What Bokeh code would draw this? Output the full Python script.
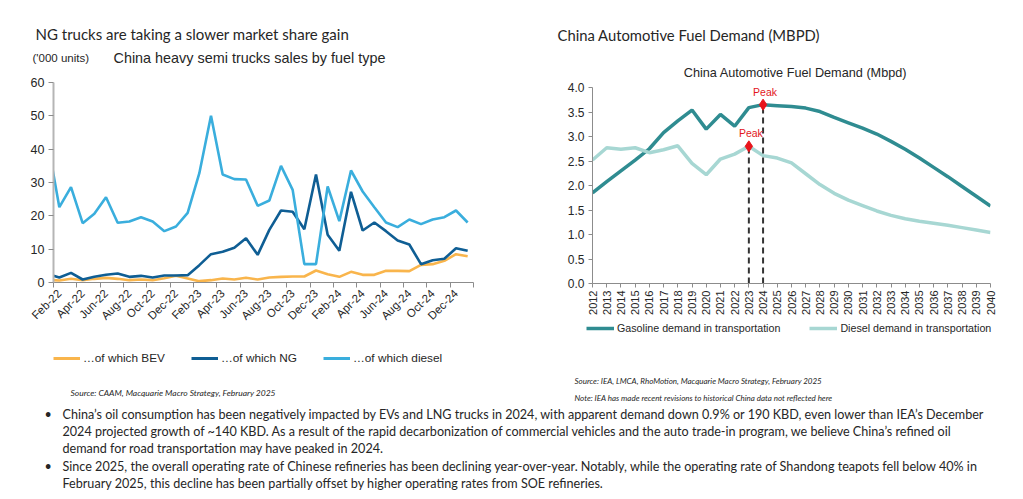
import math
from bokeh.plotting import figure
from bokeh.models import (Range1d, FixedTicker, Legend, LegendItem,
                          ColumnDataSource, NumeralTickFormatter)
from bokeh.layouts import column, row
from bokeh.embed import file_html
from bokeh.resources import INLINE
from bokeh.core.properties import value

# ---------------- data: left chart ----------------
months = ["Jan-22", "Feb-22", "Mar-22", "Apr-22", "May-22", "Jun-22", "Jul-22", "Aug-22",
          "Sep-22", "Oct-22", "Nov-22", "Dec-22", "Jan-23", "Feb-23", "Mar-23", "Apr-23",
          "May-23", "Jun-23", "Jul-23", "Aug-23", "Sep-23", "Oct-23", "Nov-23", "Dec-23",
          "Jan-24", "Feb-24", "Mar-24", "Apr-24", "May-24", "Jun-24", "Jul-24", "Aug-24",
          "Sep-24", "Oct-24", "Nov-24", "Dec-24", "Jan-25"]
bev = [0.8, 0.6, 1.1, 0.7, 1.1, 1.4, 1.1, 0.7, 0.9, 0.7, 1.3, 2.0, 1.2, 0.4, 0.7, 1.2,
       0.9, 1.4, 0.9, 1.5, 1.7, 1.8, 1.8, 3.6, 2.5, 1.7, 3.2, 2.3, 2.3, 3.5, 3.5, 3.4,
       5.3, 5.5, 6.5, 8.5, 7.9]
ng = [2.5, 1.5, 2.9, 0.9, 1.7, 2.3, 2.7, 1.7, 2.0, 1.5, 2.1, 2.1, 2.2, 5.2, 8.5, 9.2,
      10.4, 13.3, 8.3, 15.8, 21.6, 21.2, 16.0, 32.4, 14.3, 9.5, 27.2, 15.6, 18.0, 15.4,
      12.6, 11.4, 5.5, 6.7, 7.1, 10.3, 9.5]
diesel = [42.2, 22.6, 28.6, 17.8, 20.6, 25.6, 17.9, 18.3, 19.6, 18.3, 15.4, 16.8, 20.9,
          32.8, 50.0, 32.4, 31.0, 30.9, 23.0, 24.6, 35.0, 27.8, 5.5, 5.5, 28.8, 18.4,
          33.6, 27.3, 22.6, 18.0, 16.6, 18.9, 17.5, 18.9, 19.6, 21.6, 18.0]
left_series = ["…of which BEV", "…of which NG", "…of which diesel"]
left_yticks = [0, 10, 20, 30, 40, 50, 60]

# ---------------- data: right chart ----------------
years = list(range(2012, 2041))
gasoline = [1.85, 2.08, 2.30, 2.52, 2.75, 3.08, 3.32, 3.54, 3.15, 3.45, 3.21, 3.59, 3.65,
            3.63, 3.61, 3.58, 3.51, 3.39, 3.28, 3.17, 3.05, 2.90, 2.74, 2.56, 2.37, 2.18,
            1.98, 1.78, 1.58]
diesel_d = [2.52, 2.77, 2.74, 2.77, 2.67, 2.73, 2.81, 2.45, 2.22, 2.54, 2.64, 2.80, 2.61,
            2.56, 2.46, 2.24, 2.02, 1.84, 1.70, 1.59, 1.48, 1.39, 1.32, 1.27, 1.23, 1.19,
            1.14, 1.09, 1.04]
right_series = ["Gasoline demand in transportation", "Diesel demand in transportation"]
right_yticks = [0.0, 0.5, 1.0, 1.5, 2.0, 2.5, 3.0, 3.5, 4.0]
peak_years = [2023, 2024]          # diesel peak, gasoline peak
peak_text = "Peak"

texts_left = {
    "headline": "NG trucks are taking a slower market share gain",
    "units": "('000 units)",
    "title": "China heavy semi trucks sales by fuel type",
    "source": "Source: CAAM, Macquarie Macro Strategy, February 2025",
}
texts_right = {
    "headline": "China Automotive Fuel Demand (MBPD)",
    "title": "China Automotive Fuel Demand (Mbpd)",
    "source": "Source: IEA, LMCA, RhoMotion, Macquarie Macro Strategy, February 2025",
    "note": "Note: IEA has made recent revisions to historical China data not reflected here",
}
bullet_lines = [
    ("•", "China\u2019s oil consumption has been negatively impacted by EVs and LNG trucks in 2024, with apparent demand down 0.9% or 190 KBD, even lower than IEA\u2019s December"),
    ("", "2024 projected growth of ~140 KBD. As a result of the rapid decarbonization of commercial vehicles and the auto trade-in program, we believe China\u2019s refined oil"),
    ("", "demand for road transportation may have peaked in 2024."),
    ("•", "Since 2025, the overall operating rate of Chinese refineries has been declining year-over-year. Notably, while the operating rate of Shandong teapots fell below 40% in"),
    ("", "February 2025, this decline has been partially offset by higher operating rates from SOE refineries."),
]

# ---------------- styles ----------------
C_BEV, C_NG, C_DSL = "#F9B54C", "#0F5E94", "#3AAEDD"
C_GAS, C_DD = "#2F8C91", "#A7D7D3"
RED = "#E3161C"
ARIAL = "Liberation Sans"
CAL = "Lato"
TXT = "#262626"
NAN = float("nan")

# page geometry (pixels from the top-left of the page)
W, H = 1023, 499
SPLIT = 538
F1_L, F1_R, F1_T, F1_B = 53, 473, 82, 282
F2_L, F2_R, F2_T, F2_B = 592, 990, 87, 283


def text_fig(x0, x1, y0, y1, bl=0, bt=0):
    """A plain figure whose data space is the page's pixel space."""
    p = figure(width=x1 - x0, height=y1 - y0, x_range=Range1d(x0 + bl, x1),
               y_range=Range1d(y1, y0 + bt), toolbar_location=None, output_backend="svg",
               x_axis_type=None, y_axis_type=None, min_border=0)
    p.min_border_left = bl
    p.min_border_top = bt
    p.frame_align = False
    p.grid.visible = False
    p.outline_line_color = None
    return p


def put_text(p, xs, ys, texts, size, font, color=TXT, style="normal", align="left"):
    p.text(x=xs, y=ys, text=texts, text_font=value(font), text_font_size=f"{size}px",
           text_color=color, text_font_style=style, text_align=align,
           text_baseline="middle")


def chart_fig(x0, x1, y0, y1, fl, fr, ft, fb, xr, yr):
    p = figure(width=x1 - x0, height=y1 - y0, x_range=xr, y_range=yr,
               toolbar_location=None, output_backend="svg")
    p.min_border_left = fl - x0
    p.min_border_right = x1 - fr
    p.min_border_top = ft - y0
    p.min_border_bottom = y1 - fb
    p.frame_align = False
    p.outline_line_color = None
    p.xgrid.visible = False
    p.ygrid.visible = False
    return p


def make_legend(items, glyph_w, spacing, size):
    return Legend(items=items, orientation="horizontal", location="top_left",
                  glyph_width=glyph_w, glyph_height=16, label_height=16, label_standoff=3,
                  spacing=spacing, padding=0, margin=0, border_line_color=None,
                  background_fill_alpha=0, label_text_font=ARIAL,
                  label_text_font_size=f"{size}px", label_text_color=TXT)


# ================= left block =================
T1 = text_fig(0, SPLIT, 0, 76)
put_text(T1, [35], [33], [texts_left["headline"]], 15, CAL)
put_text(T1, [32], [57], [texts_left["units"]], 11.5, ARIAL)
put_text(T1, [113], [57], [texts_left["title"]], 14.4, ARIAL)

idx = list(range(len(months)))
src1 = ColumnDataSource(dict(x=idx, bev=bev, ng=ng, diesel=diesel))
p1 = chart_fig(0, SPLIT, 76, 336, F1_L, F1_R, F1_T, F1_B,
               Range1d(0.5, len(months) - 0.5), Range1d(0, 60))
p1.line("x", "bev", source=src1, color=C_BEV, line_width=2.6)
p1.line("x", "ng", source=src1, color=C_NG, line_width=2.6)
p1.line("x", "diesel", source=src1, color=C_DSL, line_width=2.6)

label_idx = list(range(1, len(months) - 1, 2))
p1.xaxis.ticker = FixedTicker(ticks=label_idx,
                              minor_ticks=[i - 0.5 for i in range(1, len(months) + 1, 2)])
p1.xaxis.major_label_overrides = {i: months[i] for i in label_idx}
p1.xaxis.major_label_orientation = math.pi / 4
p1.xaxis.major_tick_out = 0
p1.xaxis.major_tick_in = 0
p1.xaxis.minor_tick_out = 5
p1.xaxis.minor_tick_in = 0
p1.xaxis.minor_tick_line_color = "#8C8C8C"
p1.xaxis.axis_line_color = "#8C8C8C"
p1.xaxis.major_label_text_font = ARIAL
p1.xaxis.major_label_text_font_size = "11.5px"
p1.xaxis.major_label_text_color = TXT
p1.xaxis.major_label_standoff = 4

p1.yaxis.ticker = FixedTicker(ticks=left_yticks)
p1.yaxis.axis_line_color = "#B5B5B5"
p1.yaxis.axis_line_width = 2
p1.yaxis.major_tick_out = 5
p1.yaxis.major_tick_in = 0
p1.yaxis.major_tick_line_color = "#8C8C8C"
p1.yaxis.minor_tick_line_color = None
p1.yaxis.major_label_text_font = ARIAL
p1.yaxis.major_label_text_font_size = "12.5px"
p1.yaxis.major_label_text_color = TXT
p1.yaxis.major_label_standoff = 4

L1 = text_fig(0, SPLIT, 336, 403, bl=53, bt=14)
lg = [L1.line(x=[NAN], y=[NAN], color=c, line_width=3) for c in (C_BEV, C_NG, C_DSL)]
L1.add_layout(make_legend([LegendItem(label=s, renderers=[r]) for s, r in zip(left_series, lg)],
                          27, 26, 11.8))
put_text(L1, [70], [392], [texts_left["source"]], 8.5, CAL, style="italic")

left_block = column(T1, p1, L1)

# ================= right block =================
T2 = text_fig(SPLIT, W, 0, 80)
put_text(T2, [557], [34], [texts_right["headline"]], 14.8, CAL)
put_text(T2, [795], [72], [texts_right["title"]], 12.7, ARIAL, align="center")

src2 = ColumnDataSource(dict(x=years, gas=gasoline, dsl=diesel_d))
p2 = chart_fig(SPLIT, W, 80, 320, F2_L, F2_R, F2_T, F2_B,
               Range1d(years[0], years[-1]), Range1d(0, 4))
p2.line("x", "gas", source=src2, color=C_GAS, line_width=3.5)
p2.line("x", "dsl", source=src2, color=C_DD, line_width=3.5)

peak_y = [diesel_d[years.index(peak_years[0])], gasoline[years.index(peak_years[1])]]
p2.segment(x0=peak_years, y0=[0, 0], x1=peak_years, y1=peak_y, line_color="#333333",
           line_width=2, line_dash="6 4")
p2.scatter(x=peak_years, y=peak_y, marker="diamond", size=11, color="#E8141B")
p2.text(x=peak_years, y=peak_y, text=[peak_text] * 2, y_offset=-13, x_offset=2,
        text_align="center", text_baseline="middle", text_color=RED,
        text_font=value(ARIAL), text_font_size="10.5px")

p2.xaxis.ticker = FixedTicker(ticks=years)
p2.xaxis.major_label_orientation = math.pi / 2
p2.xaxis.major_tick_out = 4
p2.xaxis.major_tick_in = 0
p2.xaxis.minor_tick_line_color = None
p2.xaxis.axis_line_color = "#8C8C8C"
p2.xaxis.major_tick_line_color = "#8C8C8C"
p2.xaxis.major_label_text_font = ARIAL
p2.xaxis.major_label_text_font_size = "11px"
p2.xaxis.major_label_text_color = TXT
p2.xaxis.major_label_standoff = 3

p2.yaxis.ticker = FixedTicker(ticks=right_yticks)
p2.yaxis.formatter = NumeralTickFormatter(format="0.0")
p2.yaxis.axis_line_color = "#8C8C8C"
p2.yaxis.major_tick_out = 4
p2.yaxis.major_tick_in = 0
p2.yaxis.major_tick_line_color = "#8C8C8C"
p2.yaxis.minor_tick_line_color = None
p2.yaxis.major_label_text_font = ARIAL
p2.yaxis.major_label_text_font_size = "12px"
p2.yaxis.major_label_text_color = TXT
p2.yaxis.major_label_standoff = 4

L2a = text_fig(SPLIT, W, 320, 340, bl=586 - SPLIT, bt=0)
lg2 = [L2a.line(x=[NAN], y=[NAN], color=c, line_width=3.5) for c in (C_GAS, C_DD)]
L2a.add_layout(make_legend([LegendItem(label=s, renderers=[r]) for s, r in zip(right_series, lg2)],
                           28, 29, 10.7))
L2b = text_fig(SPLIT, W, 340, 403)
put_text(L2b, [574, 574], [380, 397], [texts_right["source"], texts_right["note"]],
         8, CAL, style="italic")

right_block = column(T2, p2, L2a, L2b)

# ================= bottom text =================
B = text_fig(0, W, 403, H)
line_y = [414, 431, 448, 466, 483]
put_text(B, [44] * len(bullet_lines), line_y, [b for b, _ in bullet_lines], 12.6, CAL)
put_text(B, [62] * len(bullet_lines), line_y, [t for _, t in bullet_lines], 12.6, CAL)

layout = column(row(left_block, right_block), B)
open("out.html", "w").write(file_html(layout, INLINE, title="chart"))
